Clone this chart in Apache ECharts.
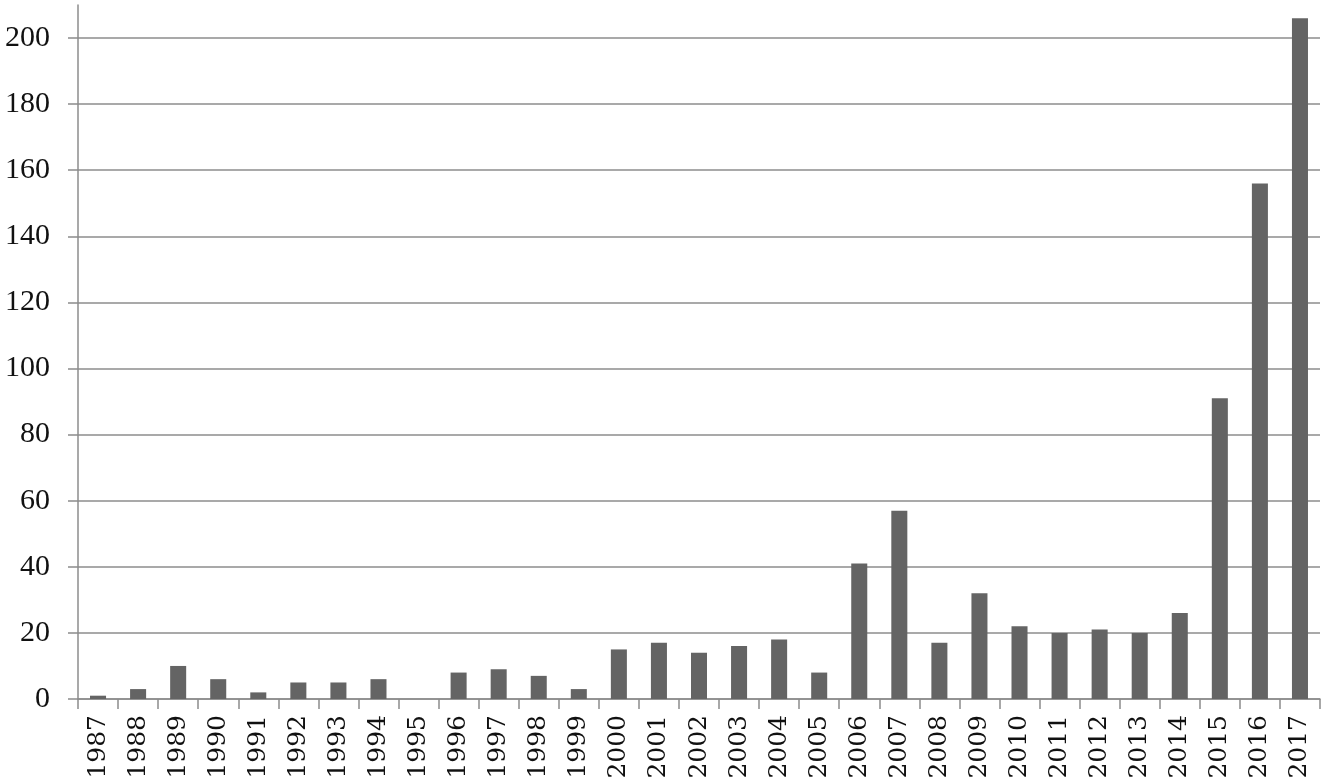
<!DOCTYPE html>
<html>
<head>
<meta charset="utf-8">
<script src="https://cdn.jsdelivr.net/npm/echarts@6/dist/echarts.min.js"></script>
<style>
html,body{margin:0;padding:0;background:#fff;}
#chart{width:1328px;height:784px;}
</style>
</head>
<body>
<div id="chart"></div>
<script>
var years = ['1987','1988','1989','1990','1991','1992','1993','1994','1995','1996','1997','1998','1999','2000','2001','2002','2003','2004','2005','2006','2007','2008','2009','2010','2011','2012','2013','2014','2015','2016','2017'];
var counts = [1,3,10,6,2,5,5,6,0,8,9,7,3,15,17,14,16,18,8,41,57,17,32,22,20,21,20,26,91,156,206];
var yTicks = [0,20,40,60,80,100,120,140,160,180,200];

var chart = echarts.init(document.getElementById('chart'), null, {renderer:'canvas'});
var lineColor = '#8c8c8c';
chart.setOption({
  animation: false,
  backgroundColor: '#ffffff',
  grid: {left: 78, right: 8, top: 5, bottom: 85, containLabel: false},
  xAxis: {
    type: 'category',
    data: years,
    boundaryGap: true,
    axisLine: {show: true, lineStyle: {color: lineColor, width: 1.5}},
    axisTick: {show: true, length: 10, inside: false, alignWithLabel: false, lineStyle: {color: lineColor, width: 1.5}},
    axisLabel: {rotate: 90, interval: 0, margin: 16, color: '#111', fontFamily: 'DejaVu Serif', fontSize: 25},
    splitLine: {show: false}
  },
  yAxis: {
    type: 'value',
    min: 0,
    max: 210,
    interval: 20,
    axisLine: {show: true, lineStyle: {color: lineColor, width: 1.5}},
    axisTick: {show: true, length: 10, inside: false, customValues: yTicks, lineStyle: {color: lineColor, width: 1.5}},
    axisLabel: {customValues: yTicks, margin: 28, color: '#111', fontFamily: 'Liberation Serif', fontSize: 30},
    splitLine: {show: true, lineStyle: {color: lineColor, width: 1.5}}
  },
  series: [{
    type: 'bar',
    data: counts,
    barWidth: '40%',
    itemStyle: {color: '#646464'}
  }]
});
</script>
</body>
</html>
